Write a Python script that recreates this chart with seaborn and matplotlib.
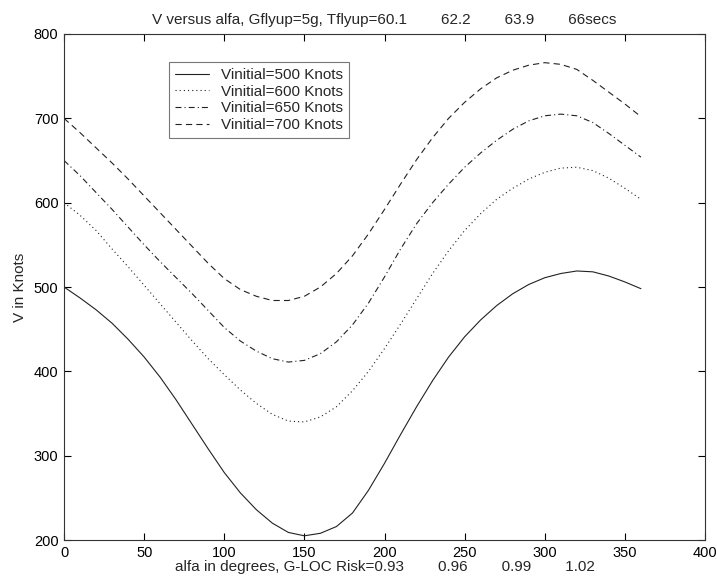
import matplotlib
matplotlib.use("Agg")
import matplotlib.pyplot as plt
import numpy as np
import pandas as pd
import seaborn as sns

# alfa in degrees (sampled every 10 deg)
alfa = list(range(0, 361, 10))

# V in knots
v_500 = [500, 487, 473, 457, 438, 417, 393, 366, 337, 308,
         280, 256, 236, 220, 209, 205, 208, 216, 232, 259,
         291, 325, 358, 389, 417, 441, 461, 478, 492, 503,
         511, 516, 519, 518, 513, 506, 498]
v_600 = [600, 585, 567, 545, 524, 502, 480, 458, 436, 415,
         396, 378, 362, 349, 341, 340, 346, 358, 377, 400,
         427, 456, 486, 516, 543, 567, 587, 604, 617, 628,
         636, 641, 642, 638, 629, 617, 604]
v_650 = [650, 632, 612, 592, 571, 550, 530, 511, 492, 472,
         452, 436, 424, 415, 411, 413, 421, 435, 455, 481,
         512, 545, 575, 600, 622, 642, 659, 674, 687, 697,
         703, 705, 703, 695, 682, 668, 654]
v_700 = [700, 683, 665, 647, 628, 608, 588, 568, 548, 528,
         510, 497, 489, 484, 484, 489, 500, 516, 537, 563,
         592, 622, 651, 677, 700, 719, 735, 748, 757, 763,
         766, 764, 758, 745, 731, 717, 702]

labels = ["Vinitial=500 Knots", "Vinitial=600 Knots",
          "Vinitial=650 Knots", "Vinitial=700 Knots"]

title = "V versus alfa, Gflyup=5g, Tflyup=60.1        62.2        63.9        66secs"
xlabel = "alfa in degrees, G-LOC Risk=0.93        0.96        0.99        1.02"
ylabel = "V in Knots"

sns.set_style("ticks")
plt.rcParams["font.family"] = ["Liberation Sans", "DejaVu Sans"]
plt.rcParams["font.size"] = 11
plt.rcParams["lines.scale_dashes"] = False

df = pd.DataFrame({
    "alfa": alfa * 4,
    "V": v_500 + v_600 + v_650 + v_700,
    "series": np.repeat(labels, len(alfa)),
})

styles = {
    labels[0]: "-",
    labels[1]: (0, (0.8, 2.2)),
    labels[2]: (0, (4.3, 2.2, 0.8, 2.2)),
    labels[3]: (0, (4.5, 3.0)),
}

fig = plt.figure(figsize=(7.17, 5.78), dpi=100)
ax = fig.add_axes([0.0893, 0.0657, 0.8940, 0.8755])

for lab in labels:
    sns.lineplot(
        data=df[df["series"] == lab], x="alfa", y="V",
        color="#222222", linewidth=0.8, linestyle=styles[lab],
        label=lab, ax=ax, sort=False,
    )

ax.set_xlim(0, 400)
ax.set_ylim(200, 800)
ax.set_xticks(range(0, 401, 50))
ax.set_yticks(range(200, 801, 100))
ax.tick_params(direction="in", length=5, width=0.8, top=True, right=True,
               labelsize=10.5, colors="black", pad=4)
for sp in ax.spines.values():
    sp.set_visible(True)
    sp.set_linewidth(0.8)
    sp.set_color("#333333")

ax.set_title(title, fontsize=11, pad=7)
ax.set_xlabel(xlabel, fontsize=11, labelpad=0)
ax.set_ylabel(ylabel, fontsize=11, labelpad=5)

leg = ax.legend(loc="upper left", bbox_to_anchor=(0.152, 0.96),
                frameon=True, fancybox=False, handlelength=2.2,
                borderpad=0.4, labelspacing=0.18, handletextpad=0.8,
                fontsize=11)
leg.get_frame().set_edgecolor("#555555")
leg.get_frame().set_linewidth(0.8)

fig.savefig("out.png", dpi=100)
